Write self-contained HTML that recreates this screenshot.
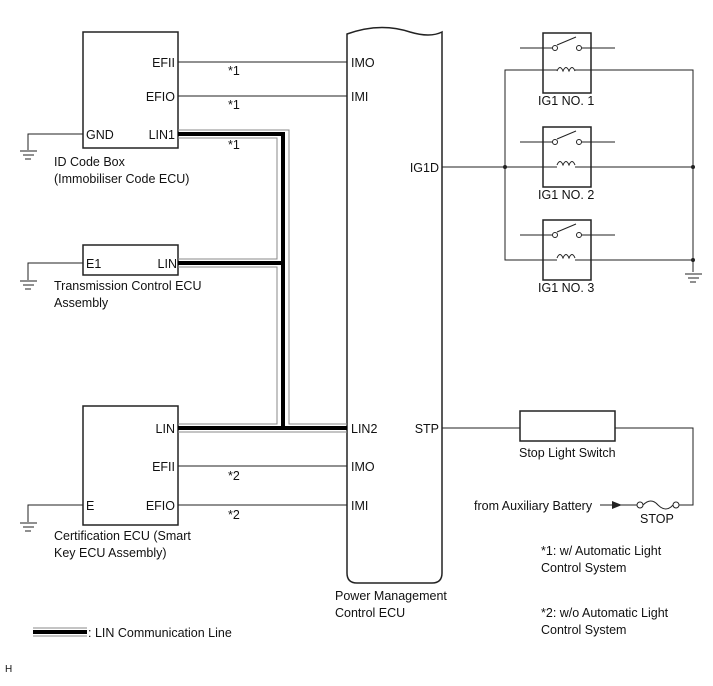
<!DOCTYPE html>
<html><head><style>
body{margin:0;background:#fff}
svg text{font-family:"Liberation Sans",Arial,sans-serif;font-size:12.5px;fill:#111}
</style></head><body>
<svg width="713" height="681" viewBox="0 0 713 681" xmlns="http://www.w3.org/2000/svg">
<g fill="none" stroke="#222" stroke-width="1">
<rect x="83" y="32" width="95" height="116" stroke-width="1.5"/>
<rect x="83" y="245" width="95" height="30" stroke-width="1.5"/>
<rect x="83" y="406" width="95" height="119" stroke-width="1.5"/>
<path d="M347 573 V34 Q380 22 410 32 Q430 38 442 32 V573 Q442 583 432 583 H357 Q347 583 347 573" stroke-width="1.5"/>
<line x1="178" y1="62" x2="347" y2="62"/>
<line x1="178" y1="96" x2="347" y2="96"/>
<line x1="178" y1="466" x2="347" y2="466"/>
<line x1="178" y1="505" x2="347" y2="505"/>
<polyline points="83,134 28,134 28,150"/>
<polyline points="83,263 28,263 28,280"/>
<polyline points="83,505 28,505 28,522"/>
</g>
<g stroke="#222" stroke-width="1">
<line x1="20" y1="151" x2="37" y2="151"/><line x1="23" y1="155" x2="34" y2="155"/><line x1="25" y1="159" x2="31" y2="159"/>
<line x1="20" y1="281" x2="37" y2="281"/><line x1="23" y1="285" x2="34" y2="285"/><line x1="25" y1="289" x2="31" y2="289"/>
<line x1="20" y1="523" x2="37" y2="523"/><line x1="23" y1="527" x2="34" y2="527"/><line x1="25" y1="531" x2="31" y2="531"/>
<line x1="685" y1="274" x2="702" y2="274"/><line x1="688" y1="278" x2="699" y2="278"/><line x1="690" y1="282" x2="696" y2="282"/>
</g>
<g fill="none" stroke="#888" stroke-width="1">
<polyline points="178,130 289,130 289,424 347,424"/>
<polyline points="178,138 277,138 277,259 178,259"/>
<polyline points="178,267 277,267 277,424 178,424"/>
<polyline points="178,432 347,432"/>
</g>
<g fill="none" stroke="#000" stroke-width="4">
<polyline points="178,134 283,134 283,428"/>
<line x1="178" y1="263" x2="283" y2="263"/>
<line x1="178" y1="428" x2="347" y2="428"/>
</g>
<g fill="none" stroke="#222" stroke-width="1">
<line x1="442" y1="167" x2="557" y2="167"/>
<polyline points="557,70 505,70 505,260 557,260"/>
<polyline points="575,70 693,70 693,272"/>
<line x1="575" y1="167" x2="693" y2="167"/>
<line x1="575" y1="260" x2="693" y2="260"/>
<g stroke-width="1.5">
<rect x="543" y="33" width="48" height="60"/>
<rect x="543" y="127" width="48" height="60"/>
<rect x="543" y="220" width="48" height="60"/>
</g>
<g id="sw">
<line x1="520" y1="48" x2="552" y2="48"/><line x1="582" y1="48" x2="615" y2="48"/>
<circle cx="555" cy="48" r="2.5" fill="#fff"/><circle cx="579" cy="48" r="2.5" fill="#fff"/>
<line x1="557" y1="45" x2="576" y2="37"/>
<path d="M557 71 q3 -7 6 0 q3 -7 6 0 q3 -7 6 0" />
</g>
<use href="#sw" y="94"/>
<use href="#sw" y="187"/>
<line x1="442" y1="428" x2="520" y2="428"/>
<rect x="520" y="411" width="95" height="30" stroke-width="1.5"/>
<polyline points="615,428 693,428 693,505 679,505"/>
<line x1="600" y1="505" x2="637" y2="505"/>
<circle cx="640" cy="505" r="3" fill="#fff"/><circle cx="676" cy="505" r="3" fill="#fff"/>
<path d="M643 505 q8 -8 15 0 q8 8 15 0"/>
</g>
<g fill="#222">
<circle cx="505" cy="167" r="2"/><circle cx="693" cy="167" r="2"/><circle cx="693" cy="260" r="2"/>
<polygon points="622,505 612,501 612,509"/>
</g>
<line x1="33" y1="628" x2="87" y2="628" stroke="#888"/>
<line x1="33" y1="632" x2="87" y2="632" stroke="#000" stroke-width="4"/>
<line x1="33" y1="636" x2="87" y2="636" stroke="#888"/>
<text x="175" y="67" text-anchor="end">EFII</text>
<text x="175" y="101" text-anchor="end">EFIO</text>
<text x="175" y="139" text-anchor="end">LIN1</text>
<text x="86" y="139">GND</text>
<text x="228" y="75">*1</text><text x="228" y="109">*1</text><text x="228" y="149">*1</text>
<text x="54" y="166">ID Code Box</text>
<text x="54" y="183">(Immobiliser Code ECU)</text>
<text x="86" y="268">E1</text><text x="177" y="268" text-anchor="end">LIN</text>
<text x="54" y="290">Transmission Control ECU</text>
<text x="54" y="307">Assembly</text>
<text x="175" y="433" text-anchor="end">LIN</text>
<text x="175" y="471" text-anchor="end">EFII</text>
<text x="175" y="510" text-anchor="end">EFIO</text>
<text x="86" y="510">E</text>
<text x="228" y="480">*2</text><text x="228" y="519">*2</text>
<text x="54" y="540">Certification ECU (Smart</text>
<text x="54" y="557">Key ECU Assembly)</text>
<text x="351" y="67">IMO</text><text x="351" y="101">IMI</text>
<text x="439" y="172" text-anchor="end">IG1D</text>
<text x="351" y="433">LIN2</text><text x="439" y="433" text-anchor="end">STP</text>
<text x="351" y="471">IMO</text><text x="351" y="510">IMI</text>
<text x="335" y="600">Power Management</text>
<text x="335" y="617">Control ECU</text>
<text x="538" y="105">IG1 NO. 1</text>
<text x="538" y="199">IG1 NO. 2</text>
<text x="538" y="292">IG1 NO. 3</text>
<text x="519" y="457">Stop Light Switch</text>
<text x="474" y="510">from Auxiliary Battery</text>
<text x="640" y="523">STOP</text>
<text x="541" y="555">*1: w/ Automatic Light</text>
<text x="541" y="572">Control System</text>
<text x="541" y="617">*2: w/o Automatic Light</text>
<text x="541" y="634">Control System</text>
<text x="88" y="637">: LIN Communication Line</text>
<text x="5" y="672" style="font-size:10px">H</text>
</svg>
</body></html>
